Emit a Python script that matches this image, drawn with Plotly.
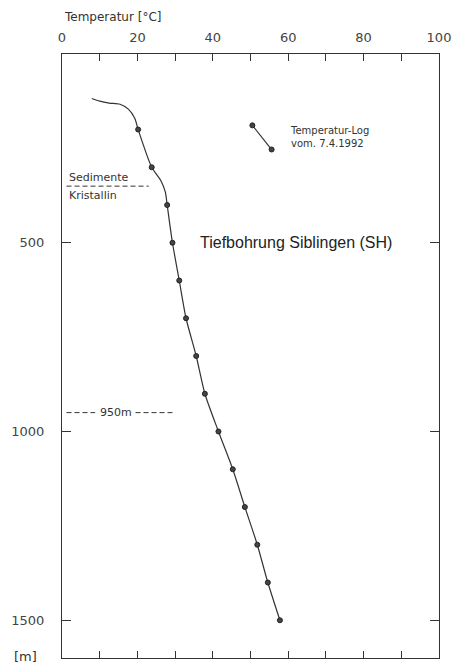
import plotly.graph_objects as go

# Temperature log curve
curve_temp = [7.9, 10.0, 12.5, 15.4, 17.6, 19.3, 20.2, 23.8, 26.2, 27.4, 27.9, 29.3, 31.1, 32.9, 35.6, 37.9,
              41.5, 45.3, 48.5, 51.8, 54.6, 57.8]
curve_depth = [118, 125, 130, 133, 146, 170, 200, 300, 335, 365, 400, 500, 600, 700, 800, 900,
               1000, 1100, 1200, 1300, 1400, 1500]

# Measurement dots
dot_depth = [200, 300, 400, 500, 600, 700, 800, 900, 1000, 1100, 1200, 1300, 1400, 1500]
dot_temp = [20.2, 23.8, 27.9, 29.3, 31.1, 32.9, 35.6, 37.9, 41.5, 45.3, 48.5, 51.8, 54.6, 57.8]

# Legend sample
legend_temp = [50.5, 55.6]
legend_depth = [189, 253]

x_ticks = [0, 10, 20, 30, 40, 50, 60, 70, 80, 90, 100]
x_labels = ["0", "", "20", "", "40", "", "60", "", "80", "", "100"]
y_ticks = [500, 1000, 1500]
y_labels = ["500", "1000", "1500"]

sediment_depth = 350
marker_depth = 950

ink = "#333333"
fnt = "DejaVu Sans"

fig = go.Figure()
fig.add_trace(go.Scatter(x=curve_temp, y=curve_depth, mode="lines",
                         line=dict(color=ink, width=1.2, shape="spline", smoothing=0.7),
                         hoverinfo="skip", showlegend=False))
fig.add_trace(go.Scatter(x=dot_temp, y=dot_depth, mode="markers",
                         marker=dict(color="#444444", size=5, line=dict(color="#222222", width=1)),
                         showlegend=False))
fig.add_trace(go.Scatter(x=legend_temp, y=legend_depth, mode="lines+markers",
                         line=dict(color=ink, width=1.2),
                         marker=dict(color="#444444", size=5, line=dict(color="#222222", width=1)),
                         showlegend=False))

# Sediment/Kristallin boundary
fig.add_shape(type="line", x0=1.2, x1=23, y0=sediment_depth, y1=sediment_depth,
              line=dict(color=ink, width=1, dash="5px,3px"))
fig.add_annotation(x=1.2, y=sediment_depth, text="Sedimente", showarrow=False,
                   xanchor="left", yanchor="bottom", yshift=0,
                   font=dict(family=fnt, size=11, color=ink))
fig.add_annotation(x=1.2, y=sediment_depth, text="Kristallin", showarrow=False,
                   xanchor="left", yanchor="top", yshift=-1,
                   font=dict(family=fnt, size=11, color=ink))

# 950 m marker
fig.add_shape(type="line", x0=1.2, x1=8.8, y0=marker_depth, y1=marker_depth,
              line=dict(color=ink, width=1, dash="5px,3px"))
fig.add_shape(type="line", x0=19.5, x1=29.3, y0=marker_depth, y1=marker_depth,
              line=dict(color=ink, width=1, dash="5px,3px"))
fig.add_annotation(x=14.2, y=marker_depth, text="950m", showarrow=False,
                   font=dict(family=fnt, size=11, color=ink))

# Legend text
fig.add_annotation(x=60, y=221, text="Temperatur-Log<br>vom. 7.4.1992", showarrow=False,
                   xanchor="left", yanchor="middle", align="left",
                   font=dict(family=fnt, size=10, color=ink))

# Title inside
fig.add_annotation(x=62, y=500, text="Tiefbohrung Siblingen (SH)", showarrow=False,
                   font=dict(family="Liberation Sans", size=16, color="#222222"))

# Axis titles
fig.add_annotation(xref="paper", yref="paper", x=0, y=1, yshift=37, text="Temperatur [°C]",
                   showarrow=False, xanchor="left", yanchor="middle",
                   font=dict(family=fnt, size=12, color=ink))
fig.add_annotation(xref="paper", yref="paper", x=0, y=0, xshift=-23, yshift=2, text="[m]",
                   showarrow=False, xanchor="right", yanchor="middle",
                   font=dict(family=fnt, size=13, color=ink))

fig.update_xaxes(range=[0, 100], side="top", tickvals=x_ticks, ticktext=x_labels,
                 ticks="inside", ticklen=7, tickwidth=1, tickcolor=ink,
                 showline=True, linecolor=ink, linewidth=1.2, mirror="allticks",
                 showgrid=False, zeroline=False, ticklabelstandoff=6, automargin=False,
                 tickfont=dict(family=fnt, size=13, color="#444444"))
fig.update_yaxes(range=[1600, 0], tickvals=y_ticks, ticktext=y_labels,
                 ticks="inside", ticklen=9, tickwidth=1, tickcolor=ink,
                 showline=True, linecolor=ink, linewidth=1.2, mirror="allticks",
                 showgrid=False, zeroline=False, ticklabelstandoff=14, automargin=False,
                 tickfont=dict(family=fnt, size=13, color="#444444"))

fig.update_layout(width=456, height=666, margin=dict(l=62, r=17, t=54, b=8),
                  plot_bgcolor="white", paper_bgcolor="white", showlegend=False)

fig.write_html("out.html", config={"displayModeBar": False},
               post_script="document.body.style.margin='0';document.body.style.overflow='hidden';")
